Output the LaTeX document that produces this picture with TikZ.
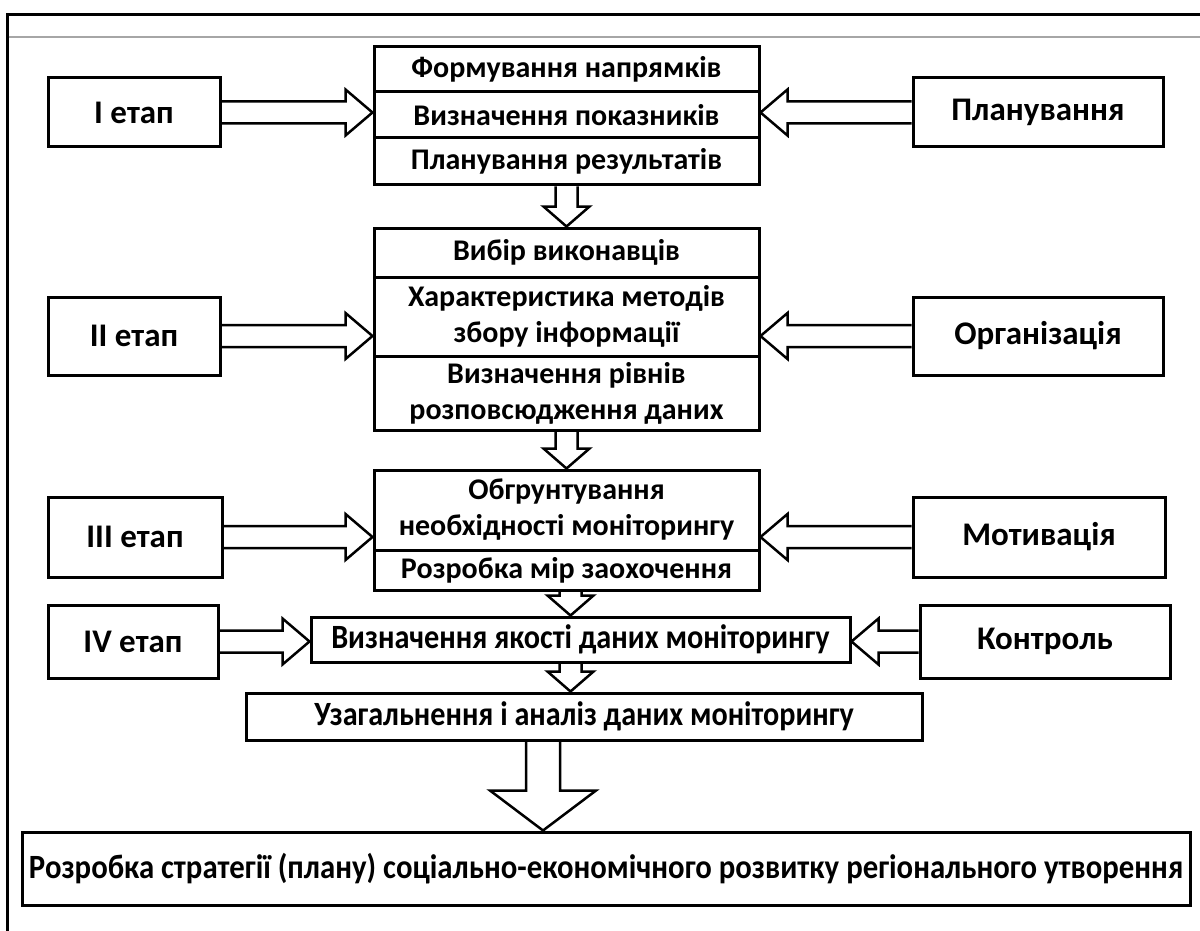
\documentclass[tikz,border=0pt]{standalone}
\usepackage{fontspec}
\setmainfont{Carlito}
\usetikzlibrary{calc}
\tikzset{
  bx/.style={draw, line width=3pt, inner sep=0pt, align=center,
    font=\fontsize{30}{36}\selectfont\bfseries},
  side/.style={bx, font=\fontsize{33}{38}\selectfont\bfseries},
  wide/.style={bx, font=\fontsize{34}{40}\selectfont\bfseries},
  blk/.style={draw, line width=2.5pt, line join=miter},
}
\newcommand\blkarrow[5]{%
  \coordinate (ah) at ($(#2)!#5!(#1)$);
  \draw[blk] ($(#1)!#3!90:(#2)$) -- ($(ah)!#3!90:(#2)$) -- ($(ah)!#4!90:(#2)$)
    -- (#2) -- ($(ah)!#4!-90:(#2)$) -- ($(ah)!#3!-90:(#2)$) -- ($(#1)!#3!-90:(#2)$);}
\begin{document}
\begin{tikzpicture}[x=1pt,y=-1pt]
\useasboundingbox (0,0) rectangle (1200,931);
% frame
\draw[line width=3pt] (7,931) -- (7,15) -- (1200,15);
\draw[line width=1.5pt, gray!70] (8.5,37) -- (1200,37);
% group 1
\node[bx, minimum width=385pt, minimum height=45pt] (g1a) at (566.5,69.5) {Формування напрямків};
\node[bx, minimum width=385pt, minimum height=46pt] (g1b) at (566.5,115) {Визначення показників};
\node[bx, minimum width=385pt, minimum height=47pt] (g1c) at (566.5,161.5) {Планування результатів};
% group 2
\node[bx, minimum width=385pt, minimum height=49pt] (g2a) at (566.5,252.5) {Вибір виконавців};
\node[bx, minimum width=385pt, minimum height=79pt] (g2b) at (566.5,316.5) {Характеристика методів\\збору інформації};
\node[bx, minimum width=385pt, minimum height=74pt] (g2c) at (566.5,393) {Визначення рівнів\\розповсюдження даних};
% group 3
\node[bx, minimum width=385pt, minimum height=80pt] (g3a) at (566.5,510) {Обгрунтування\\необхідності моніторингу};
\node[bx, minimum width=385pt, minimum height=40pt] (g3b) at (566.5,570) {Розробка мір заохочення};
% row 4, summary, final
\node[wide, minimum width=539pt, minimum height=45pt] (r4) at (580.5,639.5) {\scalebox{0.89}[1]{Визначення якості даних моніторингу}};
\node[wide, minimum width=676pt, minimum height=47pt] (u) at (584,716.5) {\scalebox{0.887}[1]{Узагальнення і аналіз даних моніторингу}};
\node[wide, minimum width=1168pt, minimum height=73pt] (f) at (606,868.5) {\scalebox{0.905}[1]{Розробка стратегії (плану) соціально-економічного розвитку регіонального утворення}};
% left boxes
\node[side, minimum width=172pt, minimum height=69pt] (i1) at (134,112.5) {I етап};
\node[side, minimum width=172pt, minimum height=78pt] (i2) at (134,336) {II етап};
\node[side, minimum width=174pt, minimum height=80pt] (i3) at (135,537) {III етап};
\node[side, minimum width=170pt, minimum height=73pt] (i4) at (133,641.5) {IV етап};
% right boxes
\node[side, minimum width=250pt, minimum height=69pt] (p1) at (1038,112.5) {Планування};
\node[side, minimum width=250pt, minimum height=78pt] (p2) at (1038,336) {Організація};
\node[side, minimum width=252pt, minimum height=80pt] (p3) at (1039,537) {Мотивація};
\node[side, minimum width=250pt, minimum height=73pt] (p4) at (1045,641.5) {Контроль};
% horizontal arrows
\path (i1.east -| g1b.west) coordinate (a1);
\path (i2.east -| g2b.west) coordinate (a2);
\path (i3.east -| g3a.west) coordinate (a3);
\path (i4.east -| r4.west) coordinate (a4);
\path (p1.west -| g1b.east) coordinate (b1);
\path (p2.west -| g2b.east) coordinate (b2);
\path (p3.west -| g3a.east) coordinate (b3);
\path (p4.west -| r4.east) coordinate (b4);
\blkarrow{i1.east}{a1}{11pt}{23pt}{27pt}
\blkarrow{i2.east}{a2}{11pt}{23pt}{27pt}
\blkarrow{i3.east}{a3}{11pt}{23pt}{27pt}
\blkarrow{i4.east}{a4}{11pt}{23pt}{27pt}
\blkarrow{p1.west}{b1}{11pt}{23pt}{27pt}
\blkarrow{p2.west}{b2}{11pt}{23pt}{27pt}
\blkarrow{p3.west}{b3}{11pt}{23pt}{27pt}
\blkarrow{p4.west}{b4}{11pt}{23pt}{27pt}
% vertical arrows
\path (g3b.south) ++(4,0) coordinate (d3s);
\path (d3s |- r4.north) coordinate (d3);
\path (d3s |- r4.south) coordinate (d4s);
\path (d3s |- u.north) coordinate (d4e);
\path (u.south) ++(-41,0) coordinate (d5s);
\path (d5s |- f.north) coordinate (d5e);
\blkarrow{g1c.south}{g2a.north}{11pt}{23pt}{20pt}
\blkarrow{g2c.south}{g3a.north}{11pt}{23pt}{20pt}
\blkarrow{d3s}{d3}{11pt}{23pt}{20pt}
\blkarrow{d4s}{d4e}{11pt}{23pt}{20pt}
\blkarrow{d5s}{d5e}{17pt}{53pt}{40pt}
\end{tikzpicture}
\end{document}
